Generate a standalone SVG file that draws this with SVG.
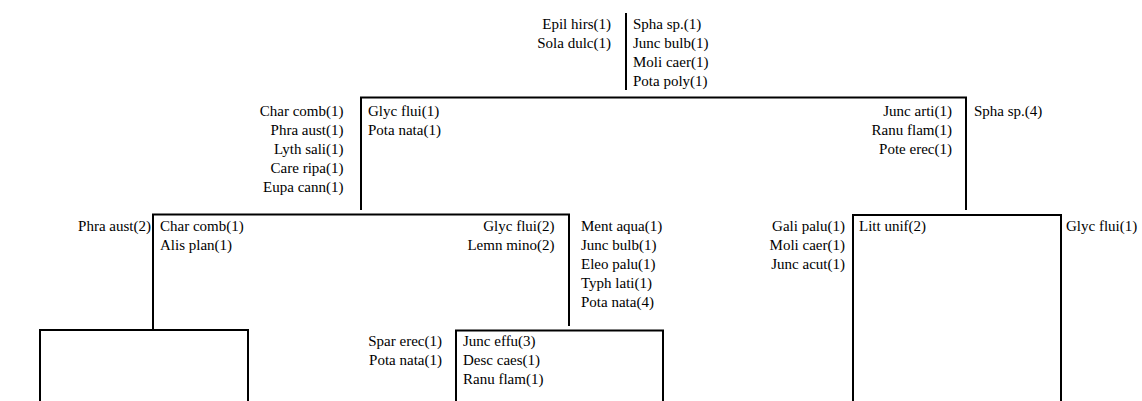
<svg xmlns="http://www.w3.org/2000/svg" width="1142" height="401" viewBox="0 0 1142 401">
<style>
text{font-family:"Liberation Serif","Times New Roman",serif;font-size:15px;fill:#000}
.l{text-anchor:end}
.r{text-anchor:start}
.c{fill:none;stroke:#000;stroke-width:2;stroke-linecap:butt;stroke-linejoin:miter}
</style>
<rect width="1142" height="401" fill="#fff"/>
<g id="connectors">
<path class="c" d="M626,13 V90"/>
<path class="c" d="M361,210 V97.5 H966 V210"/>
<path class="c" d="M153,330 V214.5 H569 V326"/>
<path class="c" d="M853,401 V215 H1061 V401"/>
<path class="c" d="M40,401 V330 H248 V401"/>
<path class="c" d="M456,401 V330.5 H663 V401"/>
</g>
<g id="node-root">
<text class="l" x="611" y="28.5">Epil hirs(1)</text>
<text class="l" x="611" y="47.5">Sola dulc(1)</text>
<text class="r" x="633" y="28.5">Spha sp.(1)</text>
<text class="r" x="633" y="47.5">Junc bulb(1)</text>
<text class="r" x="633" y="66.5">Moli caer(1)</text>
<text class="r" x="633" y="85.5">Pota poly(1)</text>
</g>
<g id="node-left">
<text class="l" x="343.5" y="115.5">Char comb(1)</text>
<text class="l" x="343.5" y="134.5">Phra aust(1)</text>
<text class="l" x="343.5" y="153.5">Lyth sali(1)</text>
<text class="l" x="343.5" y="172.5">Care ripa(1)</text>
<text class="l" x="343.5" y="191.5">Eupa cann(1)</text>
<text class="r" x="368" y="115.5">Glyc flui(1)</text>
<text class="r" x="368" y="134.5">Pota nata(1)</text>
</g>
<g id="node-right">
<text class="l" x="952" y="115.5">Junc arti(1)</text>
<text class="l" x="952" y="134.5">Ranu flam(1)</text>
<text class="l" x="952" y="153.5">Pote erec(1)</text>
<text class="r" x="974" y="115.5">Spha sp.(4)</text>
</g>
<g id="node-left-left">
<text class="l" x="151" y="231">Phra aust(2)</text>
<text class="r" x="160" y="231">Char comb(1)</text>
<text class="r" x="160" y="250">Alis plan(1)</text>
</g>
<g id="node-left-right">
<text class="l" x="554.5" y="231">Glyc flui(2)</text>
<text class="l" x="554.5" y="250">Lemn mino(2)</text>
<text class="r" x="581" y="231">Ment aqua(1)</text>
<text class="r" x="581" y="250">Junc bulb(1)</text>
<text class="r" x="581" y="269">Eleo palu(1)</text>
<text class="r" x="581" y="288">Typh lati(1)</text>
<text class="r" x="581" y="307">Pota nata(4)</text>
</g>
<g id="node-right-child">
<text class="l" x="845" y="231">Gali palu(1)</text>
<text class="l" x="845" y="250">Moli caer(1)</text>
<text class="l" x="845" y="269">Junc acut(1)</text>
<text class="r" x="859" y="231">Litt unif(2)</text>
<text class="r" x="1066" y="231">Glyc flui(1)</text>
</g>
<g id="node-left-right-bottom">
<text class="l" x="442" y="346">Spar erec(1)</text>
<text class="l" x="442" y="365">Pota nata(1)</text>
<text class="r" x="463" y="346">Junc effu(3)</text>
<text class="r" x="463" y="365">Desc caes(1)</text>
<text class="r" x="463" y="384">Ranu flam(1)</text>
</g>
</svg>
